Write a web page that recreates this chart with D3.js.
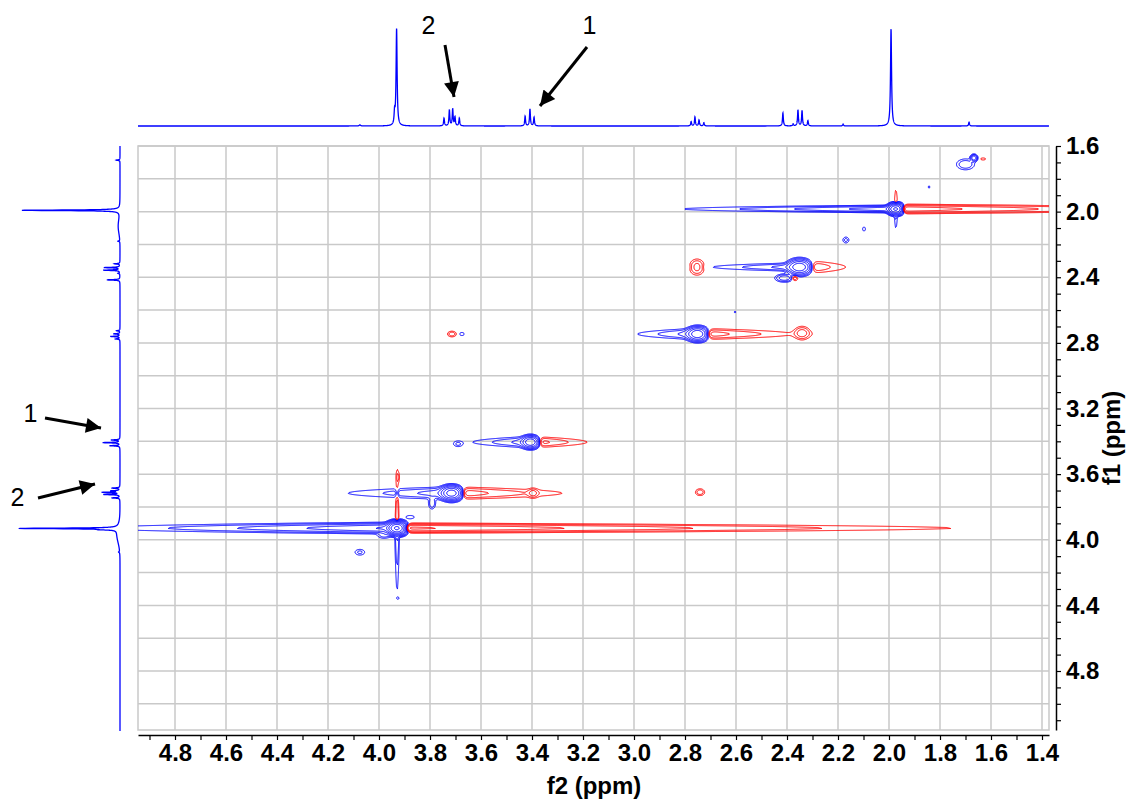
<!DOCTYPE html>
<html>
<head>
<meta charset="utf-8">
<script src="https://cdn.jsdelivr.net/npm/d3@7"></script>
<style>
  body { margin: 0; background: #fff; }
  svg text { font-family: Arial, "Liberation Sans", Helvetica, sans-serif; }
</style>
</head>
<body>
<svg id="chart" width="1129" height="801"></svg>
<script>
// ---------- 1D proton spectrum: [ppm, height (% of tallest), half-width (ppm)] ----------
const protonPeaks = [
  [4.075, 1.2, 0.003],
  [3.939, 12, 0.002],
  [3.931, 100, 0.0024],
  [3.745, 8, 0.002],
  [3.724, 16.5, 0.002],
  [3.711, 17.5, 0.002],
  [3.702, 9, 0.002],
  [3.685, 8, 0.002],
  [3.427, 10, 0.002],
  [3.408, 17.5, 0.002],
  [3.392, 9, 0.002],
  [2.776, 4.4, 0.002],
  [2.761, 9.3, 0.002],
  [2.745, 6.2, 0.002],
  [2.726, 3.4, 0.002],
  [2.416, 13.4, 0.002],
  [2.376, 2, 0.002],
  [2.357, 16.5, 0.002],
  [2.341, 15.8, 0.002],
  [2.318, 5.5, 0.002],
  [2.180, 2, 0.002],
  [1.992, 100, 0.0024],
  [1.686, 4, 0.002]
];
// broad baseline humps of the f1 projection: [ppm, height, width (ppm)]
const f1Humps = [
  [2.09, 1.8, 0.06],
  [3.97, 3.0, 0.07]
];

// ---------- 2D map ----------
// peaks: [f2, f1, amplitude (+ positive, - negative), width f2, width f1]
const mapPeaks = [
  [3.929, 3.929, 300, 0.0235, 0.0244],
  [3.714, 3.716, 100, 0.0275, 0.0274],
  [3.404, 3.405, 60, 0.0235, 0.0244],
  [2.749, 2.746, 60, 0.0275, 0.0274],
  [2.349, 2.338, 60, 0.031, 0.030],
  [1.973, 1.984, 150, 0.0196, 0.0213],
  [1.667, 1.673, 15, 0.0098, 0.015],
  [1.700, 1.712, 4, 0.030, 0.028],
  [1.631, 1.679, -2, 0.012, 0.007],
  [1.843, 1.850, 1.4, 0.0047, 0.015],
  [2.169, 2.173, 2.6, 0.012, 0.018],
  [2.098, 2.106, 1.6, 0.008, 0.018],
  [2.753, 2.338, -6, 0.0235, 0.0366],
  [2.410, 2.405, 7, 0.0275, 0.018],
  [2.370, 2.405, -4, 0.012, 0.015],
  [2.604, 2.612, 1.3, 0.006, 0.009],
  [2.341, 2.740, -6, 0.0235, 0.0305],
  [3.714, 2.746, -3.5, 0.0157, 0.0152],
  [3.675, 2.746, 1.8, 0.0118, 0.0122],
  [2.741, 3.710, -3.5, 0.0157, 0.018],
  [3.690, 3.417, 2.2, 0.0157, 0.0152],
  [3.396, 3.716, -5, 0.0157, 0.021],
  [3.792, 3.777, 4, 0.0118, 0.030],
  [4.075, 4.076, 2.5, 0.0196, 0.018],
  [3.925, 4.356, 1.3, 0.004, 0.006],
  [3.878, 3.862, 2, 0.0196, 0.012],
  [3.980, 3.972, 3, 0.0235, 0.018],
  [3.925, 3.618, -2, 0.006, 0.030]
];
// streaks along f2: [f2, f1, amplitude, decay (ppm), width f1, side (-1 toward high f2, +1 toward low f2)]
const f2Streaks = [
  [3.929, 3.929, 20, 0.392, 0.0213, -1],
  [3.929, 3.929, -20, 0.729, 0.0183, 1],
  [3.714, 3.716, 8, 0.196, 0.0274, -1],
  [3.714, 3.716, -8, 0.208, 0.0274, 1],
  [3.404, 3.405, 8, 0.110, 0.0244, -1],
  [3.404, 3.405, -8, 0.106, 0.0244, 1],
  [2.749, 2.746, 8, 0.114, 0.0244, -1],
  [2.749, 2.746, -8, 0.180, 0.0244, 1],
  [2.349, 2.338, 8, 0.165, 0.0183, -1],
  [2.349, 2.338, -8, 0.086, 0.0305, 1],
  [1.973, 1.984, 15, 0.310, 0.0146, -1],
  [1.973, 1.984, -15, 0.431, 0.0183, 1]
];
// streaks along f1: [f2, f1, amplitude, decay (ppm), width f2, side (-1 toward low f1, +1 toward high f1)]
const f1Streaks = [
  [3.929, 3.929, -6, 0.189, 0.0059, -1],
  [3.929, 3.929, 6, 0.213, 0.0071, 1],
  [1.973, 1.984, -5, 0.073, 0.0059, -1],
  [1.973, 1.984, 5, 0.073, 0.0059, 1]
];
const contourBase = 1, contourFactor = 2, contourCount = 10;

// axis ticks
const f2Ticks = d3.range(14, 50).map(d => d / 10);
const f1Ticks = d3.range(16, 52).map(d => d / 10);

// annotations on the projections
const annotations = [
  { text: "2", ppm: 3.711 },
  { text: "1", ppm: 3.408 }
];

// ---------- layout ----------
const svg = d3.select("#chart");
const plot = { left: 138, right: 1049, top: 146, bottom: 730 };
const x = d3.scaleLinear().domain([4.8, 1.4]).range([175, 1042]);
const y = d3.scaleLinear().domain([1.6, 4.8]).range([146, 671]);
const xAxisScale = x.copy().domain([x.invert(plot.left), x.invert(plot.right)]).range([plot.left, plot.right]);
const yAxisScale = y.copy().domain([y.invert(plot.top), y.invert(plot.bottom)]).range([plot.top, plot.bottom]);
const topH = d3.scaleLinear().domain([0, 100]).range([126, 29]);
const leftH = d3.scaleLinear().domain([0, 100]).range([120, 22]);

// grid
const grid = svg.append("g").attr("stroke", "#c9c9c9").attr("stroke-width", 1.5);
grid.selectAll("line.v").data(f2Ticks.filter(t => Math.round(t * 10) % 2 === 0 && t <= 4.8))
  .join("line").attr("class", "v")
  .attr("x1", d => x(d)).attr("x2", d => x(d)).attr("y1", plot.top).attr("y2", plot.bottom);
grid.selectAll("line.h").data(f1Ticks.filter(t => Math.round(t * 10) % 2 === 0))
  .join("line").attr("class", "h")
  .attr("y1", d => y(d)).attr("y2", d => y(d)).attr("x1", plot.left).attr("x2", plot.right);
svg.append("rect").attr("x", plot.left).attr("y", plot.top)
  .attr("width", plot.right - plot.left).attr("height", plot.bottom - plot.top)
  .attr("fill", "none").attr("stroke", "#c9c9c9").attr("stroke-width", 1.5);

// ---------- contour field ----------
const gx0 = 40, gx1 = 1210, gy0 = 100, gy1 = 770;
const nx = gx1 - gx0, ny = gy1 - gy0;
const f2At = Float64Array.from({ length: nx }, (_, i) => x.invert(gx0 + i + 0.5));
const f1At = Float64Array.from({ length: ny }, (_, j) => y.invert(gy0 + j + 0.5));
const field = new Float64Array(nx * ny);
const clampI = v => Math.max(0, Math.min(nx - 1, Math.round(v - gx0)));
const clampJ = v => Math.max(0, Math.min(ny - 1, Math.round(v - gy0)));

function accumulate(f2Lo, f2Hi, f1Lo, f1Hi, fn) {
  const i0 = clampI(x(f2Hi)), i1 = clampI(x(f2Lo));
  const j0 = clampJ(y(f1Lo)), j1 = clampJ(y(f1Hi));
  for (let j = j0; j <= j1; j++) {
    const f1 = f1At[j];
    for (let i = i0; i <= i1; i++) field[j * nx + i] += fn(f2At[i], f1);
  }
}

mapPeaks.forEach(([c2, c1, a, w2, w1]) => {
  const r = Math.sqrt(Math.log(Math.abs(a) / 0.01));
  accumulate(c2 - r * w2, c2 + r * w2, c1 - r * w1, c1 + r * w1, (f2, f1) => {
    const u = (f2 - c2) / w2, v = (f1 - c1) / w1;
    return a * Math.exp(-u * u - v * v);
  });
});

const tau2 = 2 / 255, tau1 = 2 / 164;
f2Streaks.forEach(([c2, c1, a, L, w1, side]) => {
  const reach = L * Math.log(Math.abs(a) / 0.01);
  const lo = side > 0 ? c2 - reach : c2 - 8 * tau2;
  const hi = side > 0 ? c2 + 8 * tau2 : c2 + reach;
  accumulate(lo, hi, c1 - 3.5 * w1, c1 + 3.5 * w1, (f2, f1) => {
    const u = (c2 - f2) * side, v = (f1 - c1) / w1;
    return a * Math.exp(-Math.abs(u) / L) / (1 + Math.exp(-u / tau2)) * Math.exp(-v * v);
  });
});
f1Streaks.forEach(([c2, c1, a, L, w2, side]) => {
  const reach = L * Math.log(Math.abs(a) / 0.01);
  const lo = side > 0 ? c1 - 8 * tau1 : c1 - reach;
  const hi = side > 0 ? c1 + reach : c1 + 8 * tau1;
  accumulate(c2 - 3.5 * w2, c2 + 3.5 * w2, lo, hi, (f2, f1) => {
    const u = (f1 - c1) * side, v = (f2 - c2) / w2;
    return a * Math.exp(-Math.abs(u) / L) / (1 + Math.exp(-u / tau1)) * Math.exp(-v * v);
  });
});

const levels = d3.range(contourCount).map(i => contourBase * Math.pow(contourFactor, i));
const contourGen = d3.contours().size([nx, ny]).thresholds(levels);
const gridProjection = d3.geoTransform({
  point(px, py) { this.stream.point(gx0 + px, gy0 + py); }
});
const contourPath = d3.geoPath(gridProjection);

svg.append("clipPath").attr("id", "plotClip")
  .append("rect").attr("x", plot.left).attr("y", plot.top)
  .attr("width", plot.right - plot.left).attr("height", plot.bottom - plot.top);
const map = svg.append("g").attr("clip-path", "url(#plotClip)").attr("fill", "none").attr("stroke-width", 1);
map.append("g").attr("stroke", "#0000ff").selectAll("path")
  .data(contourGen(field)).join("path").attr("d", contourPath);
map.append("g").attr("stroke", "#ff0000").selectAll("path")
  .data(contourGen(field.map(v => -v))).join("path").attr("d", contourPath);

// ---------- projections ----------
function spectrum(ppm, withHumps) {
  let s = 0;
  for (const [c, h, w] of protonPeaks) { const d = (ppm - c) / w; s += h / (1 + d * d); }
  if (withHumps) for (const [c, h, w] of f1Humps) { const d = (ppm - c) / w; s += h * Math.exp(-d * d); }
  return s;
}
const f2Grid = d3.range(x.invert(plot.left), x.invert(plot.right), -0.0004);
svg.append("path")
  .attr("d", d3.line().x(p => x(p)).y(p => topH(spectrum(p, false)))(f2Grid))
  .attr("fill", "none").attr("stroke", "#0000ff").attr("stroke-width", 1.3);
const f1Grid = d3.range(y.invert(plot.top), y.invert(plot.bottom + 1), 0.0004);
svg.append("path")
  .attr("d", d3.line().x(p => leftH(spectrum(p, true))).y(p => y(p))(f1Grid))
  .attr("fill", "none").attr("stroke", "#0000ff").attr("stroke-width", 1.3);

// ---------- axes ----------
const fmt = d3.format(".1f");
const xAxis = d3.axisBottom(xAxisScale).tickValues(f2Ticks).tickSize(5).tickSizeOuter(0).tickPadding(4)
  .tickFormat(d => (Math.round(d * 10) % 2 === 0 && d <= 4.8) ? fmt(d) : "");
const gx = svg.append("g").attr("transform", `translate(0,735)`).call(xAxis);
const yAxis = d3.axisRight(yAxisScale).tickValues(f1Ticks).tickSize(5).tickSizeOuter(0).tickPadding(5)
  .tickFormat(d => Math.round(d * 10) % 4 === 0 && d <= 4.8 ? fmt(d) : "");
const gy = svg.append("g").attr("transform", `translate(1056,0)`).call(yAxis);
[gx, gy].forEach(g => {
  g.selectAll("path.domain").attr("stroke", "#000").attr("stroke-width", 1.5);
  g.selectAll(".tick line").attr("stroke", "#000").attr("stroke-width", 1.2);
  g.selectAll("text").attr("font-family", "Arial, 'Liberation Sans', sans-serif")
    .attr("font-size", 24).attr("font-weight", "bold").attr("fill", "#000");
});

svg.append("text").attr("x", 594).attr("y", 794).attr("text-anchor", "middle")
  .attr("font-size", 24).attr("font-weight", "bold").text("f2 (ppm)");
svg.append("text").attr("transform", "translate(1120,438) rotate(-90)").attr("text-anchor", "middle")
  .attr("font-size", 24).attr("font-weight", "bold").text("f1 (ppm)");

// ---------- annotations ----------
svg.append("defs").append("marker").attr("id", "head")
  .attr("viewBox", "0 0 10 10").attr("refX", 10).attr("refY", 5)
  .attr("markerWidth", 6).attr("markerHeight", 5).attr("markerUnits", "strokeWidth")
  .attr("orient", "auto")
  .append("path").attr("d", "M0,0 L10,5 L0,10 Z").attr("fill", "#000");

const arrowLayout = [
  { a: annotations[0], tail: [445, 45], tip: [454, 97], label: [428.5, 34] },
  { a: annotations[1], tail: [587, 47], tip: [540, 106], label: [589.5, 34] },
  { a: annotations[1], tail: [45, 418], tip: [101, 428], label: [30.5, 422] },
  { a: annotations[0], tail: [38, 498], tip: [95, 484], label: [17.5, 506] }
];
arrowLayout.forEach(d => {
  svg.append("line").attr("x1", d.tail[0]).attr("y1", d.tail[1]).attr("x2", d.tip[0]).attr("y2", d.tip[1])
    .attr("stroke", "#000").attr("stroke-width", 3).attr("marker-end", "url(#head)");
  svg.append("text").attr("x", d.label[0]).attr("y", d.label[1]).attr("text-anchor", "middle")
    .attr("font-size", 25).text(d.a.text);
});
</script>
</body>
</html>
